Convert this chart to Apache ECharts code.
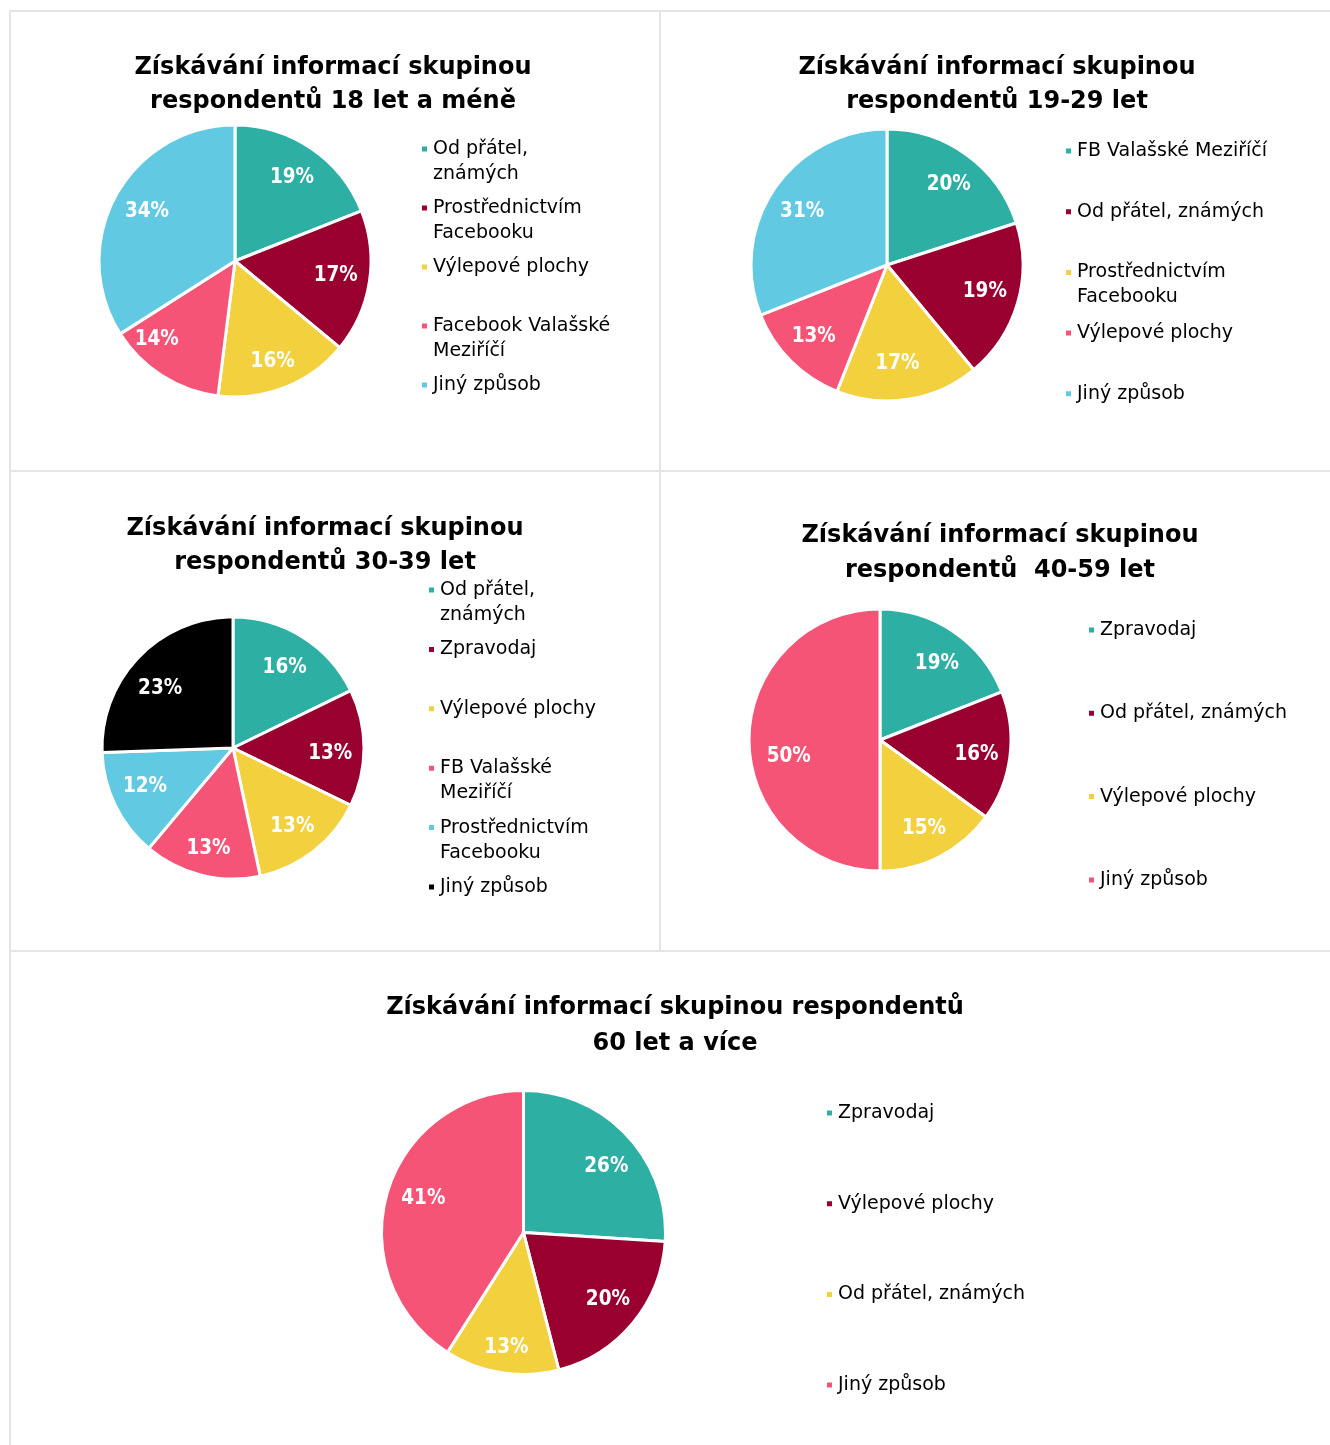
<!DOCTYPE html>
<html><head><meta charset="utf-8">
<script src="https://cdn.jsdelivr.net/npm/echarts@6/dist/echarts.min.js"></script>
<style>html,body{margin:0;padding:0;background:#fff}#c{width:1330px;height:1445px}</style>
</head><body><div id="c"></div>
<script>
const FONT = '"DejaVu Sans", sans-serif';
const FONT_LABEL = '"DejaVu Sans Condensed", "DejaVu Sans", sans-serif';
const TEAL = '#2EAFA4', CRIMSON = '#990030', YELLOW = '#F2D03E', PINK = '#F55477', SKY = '#62C9E3', BLACK = '#000000';

// Chart 1 — 18 let a méně
const title1 = 'Získávání informací skupinou\nrespondentů 18 let a méně';
const cats1 = ['Od přátel,\nznámých', 'Prostřednictvím\nFacebooku', 'Výlepové plochy', 'Facebook Valašské\nMeziříčí', 'Jiný způsob'];
const vals1 = [19, 17, 16, 14, 34];

// Chart 2 — 19-29 let
const title2 = 'Získávání informací skupinou\nrespondentů 19-29 let';
const cats2 = ['FB Valašské Meziříčí', 'Od přátel, známých', 'Prostřednictvím\nFacebooku', 'Výlepové plochy', 'Jiný způsob'];
const vals2 = [20, 19, 17, 13, 31];

// Chart 3 — 30-39 let
const title3 = 'Získávání informací skupinou\nrespondentů 30-39 let';
const cats3 = ['Od přátel,\nznámých', 'Zpravodaj', 'Výlepové plochy', 'FB Valašské\nMeziříčí', 'Prostřednictvím\nFacebooku', 'Jiný způsob'];
const vals3 = [16, 13, 13, 13, 12, 23];

// Chart 4 — 40-59 let
const title4 = 'Získávání informací skupinou\nrespondentů  40-59 let';
const cats4 = ['Zpravodaj', 'Od přátel, známých', 'Výlepové plochy', 'Jiný způsob'];
const vals4 = [19, 16, 15, 50];

// Chart 5 — 60 let a více
const title5 = 'Získávání informací skupinou respondentů\n60 let a více';
const cats5 = ['Zpravodaj', 'Výlepové plochy', 'Od přátel, známých', 'Jiný způsob'];
const vals5 = [26, 20, 13, 41];

const panels = [
  {title: title1, cats: cats1, vals: vals1, colors: [TEAL, CRIMSON, YELLOW, PINK, SKY],
   center: [235, 261], r: 136, tx: 333, ty: 51, tlh: 34, lx: 420, ly: 149, lsp: 59,
   nudge: [[-2, 4], [-3, -2], [-1, 3], [-22, -10], [4, 1]]},
  {title: title2, cats: cats2, vals: vals2, colors: [TEAL, CRIMSON, YELLOW, PINK, SKY],
   center: [887, 265], r: 136, tx: 997, ty: 51, tlh: 34, lx: 1064, ly: 151, lsp: 60.7,
   nudge: [[0, 5], [-3, -3], [-6, -5], [1, -3], [2, 6]]},
  {title: title3, cats: cats3, vals: vals3, colors: [TEAL, CRIMSON, YELLOW, PINK, SKY, BLACK],
   center: [233, 748], r: 131, tx: 325, ty: 512, tlh: 34, lx: 427, ly: 590, lsp: 59.4,
   nudge: [[-2, 6], [-4, 6], [-3, -1], [0, 2], [3, -6], [0, 11]]},
  {title: title4, cats: cats4, vals: vals4, colors: [TEAL, CRIMSON, YELLOW, PINK],
   center: [880, 740], r: 131, tx: 1000, ty: 518.5, tlh: 35, lx: 1087, ly: 630, lsp: 83.3,
   nudge: [[0, 7], [-4, 2], [-2, -2], [10, 17]]},
  {title: title5, cats: cats5, vals: vals5, colors: [TEAL, CRIMSON, YELLOW, PINK],
   center: [523.5, 1232.5], r: 142, tx: 675, ty: 990, tlh: 36, lx: 825, ly: 1113, lsp: 90.7,
   nudge: [[3, 9], [0, -3], [0, 7], [5, -3]]}
];

const LH = 25;
const option = {
  animation: false,
  backgroundColor: '#ffffff',
  title: [], legend: [], series: [],
  graphic: []
};

const lineStyle = {stroke: '#e4e4e4', lineWidth: 2};
[[9, 11, 1330, 11], [10, 10, 10, 1445], [660, 11, 660, 951], [9, 471, 1330, 471], [9, 951, 1330, 951]]
  .forEach(s => option.graphic.push({type: 'line', silent: true, shape: {x1: s[0], y1: s[1], x2: s[2], y2: s[3]}, style: lineStyle}));

panels.forEach((p, i) => {
  option.title.push({
    text: p.title, left: p.tx, top: p.ty, textAlign: 'center', padding: 0,
    textStyle: {fontFamily: FONT, fontSize: 24, fontWeight: 'bold', color: '#000', lineHeight: p.tlh}
  });
  option.legend.push({
    data: p.cats.map((c, k) => ({name: c, itemStyle: {color: p.colors[k]}})),
    orient: 'vertical', left: p.lx, top: p.ly - 1.5 * LH, padding: 0,
    itemWidth: 7, itemHeight: 7, itemGap: p.lsp - 3 * LH, icon: 'rect', selectedMode: false,
    formatter: name => name.indexOf('\n') >= 0 ? ' \n' + name : ' \n' + name + '\n ',
    textStyle: {fontFamily: FONT, fontSize: 19, color: '#000', lineHeight: LH}
  });
  const data = p.cats.map((c, k) => ({name: c, value: p.vals[k], itemStyle: {color: p.colors[k]}}));
  option.series.push({
    type: 'pie', center: p.center, radius: [0, p.r], startAngle: 90, clockwise: true,
    silent: true, avoidLabelOverlap: false, label: {show: false}, labelLine: {show: false},
    itemStyle: {borderColor: '#fff', borderWidth: 3}, emphasis: {disabled: true},
    data: data
  });
  option.series.push({
    type: 'pie', center: p.center, radius: [p.r * 0.5, p.r], startAngle: 90, clockwise: true,
    silent: true, avoidLabelOverlap: false, z: 5,
    itemStyle: {color: 'rgba(0,0,0,0)', borderWidth: 0}, emphasis: {disabled: true},
    label: {show: true, position: 'inside', formatter: '{c}%', color: '#fff',
            fontFamily: FONT_LABEL, fontSize: 20.5, fontWeight: 'bold'},
    labelLine: {show: false},
    labelLayout: params => ({dx: p.nudge[params.dataIndex][0], dy: p.nudge[params.dataIndex][1]}),
    data: p.cats.map((c, k) => ({name: c, value: p.vals[k]}))
  });
});

const chart = echarts.init(document.getElementById('c'), null, {renderer: 'canvas'});
chart.setOption(option);
</script>
</body></html>
